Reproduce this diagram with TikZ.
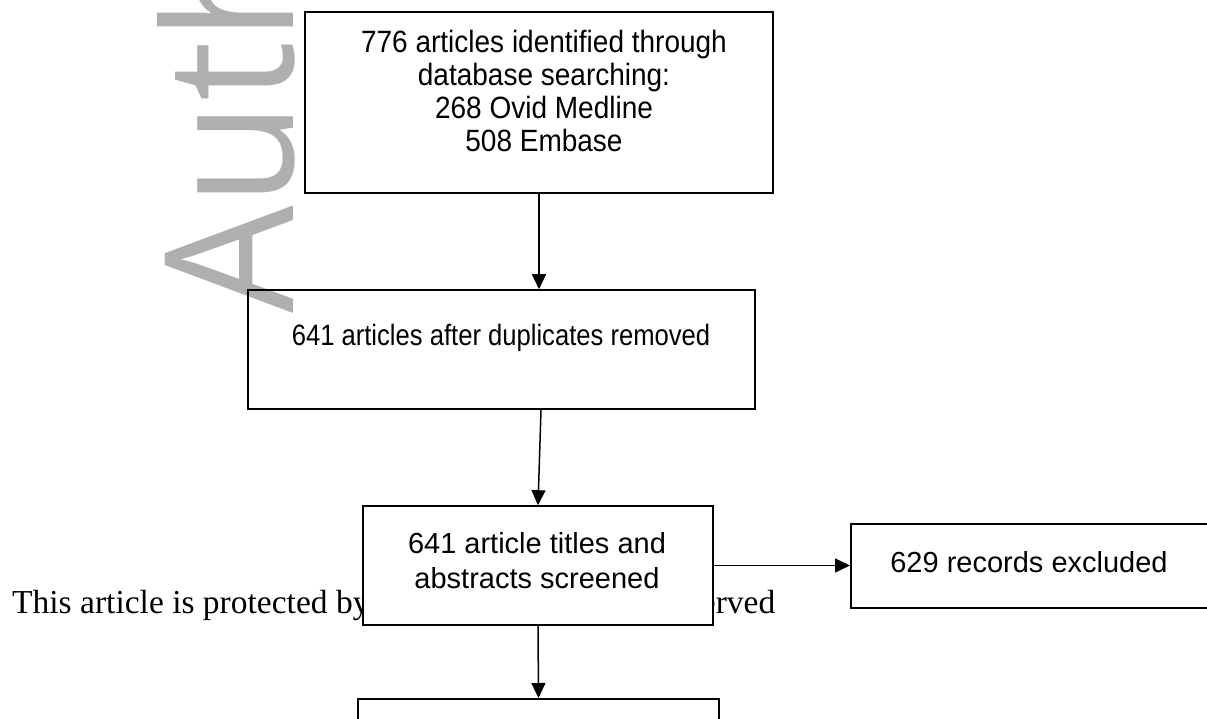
\documentclass[tikz,border=0pt]{standalone}
\usepackage{fontspec}
\setmainfont{Liberation Sans}
\newfontfamily\wmfont{Open Sans}
\newfontfamily\serfont{Liberation Serif}
\usetikzlibrary{arrows.meta}
\definecolor{wmgray}{HTML}{AFAFAF}
\tikzset{
  box/.style={draw=black, line width=1.6pt, rectangle, inner sep=0pt},
  whitebox/.style={box, fill=white},
  arr/.style={line width=1.5pt, -{Triangle[length=15pt,width=14pt]}},
  txt/.style={inner sep=0pt, anchor=base},
  fA/.style={font=\fontsize{28pt}{33pt}\selectfont},
  fB/.style={font=\fontsize{25.6pt}{30pt}\selectfont},
  fC/.style={font=\fontsize{29pt}{35pt}\selectfont},
}
\newcommand{\tall}[2]{\scalebox{1}[#1]{#2}}
\begin{document}
\begin{tikzpicture}[x=1pt, y=-1pt]
\useasboundingbox (0,0) rectangle (1207,719);
\clip (0,0) rectangle (1207,719);
% text under the boxes
\node[anchor=base west, inner sep=0pt] (copy) at (12,613)
  {\resizebox{763pt}{!}{\serfont\fontsize{30pt}{36pt}\selectfont This article is protected by copyright. All rights reserved}};
\node[whitebox, minimum width=350pt, minimum height=119pt] (box3) at (538,565.5) {};
% watermark
\node[rotate=90, anchor=base west, inner sep=0pt, text=wmgray,
      font=\wmfont\fontsize{179pt}{179pt}\selectfont] (wm) at (293,314) {\scalebox{0.95}[1]{Auth}};
% boxes
\node[box, minimum width=468pt, minimum height=181pt] (box1) at (539,102.5) {};
\node[box, minimum width=507pt, minimum height=119pt] (box2) at (501.5,349.5) {};
\node[box, minimum width=361pt, minimum height=60pt, anchor=north] (box4) at (538.5,698) {};
\node[box, minimum width=420pt, minimum height=84pt, anchor=west] (box5) at (850,566) {};
% texts
\node[txt, fA] (t1a) at (544,53)  {\tall{1.1}{776 articles identified through}};
\node[txt, fA] (t1b) at (544,86)  {\tall{1.1}{database searching:}};
\node[txt, fA] (t1c) at (544,119) {\tall{1.1}{268 Ovid Medline}};
\node[txt, fA] (t1d) at (544,152) {\tall{1.1}{508 Embase}};
\node[txt, fB] (t2) at (501,345) {\tall{1.15}{641 articles after duplicates removed}};
\node[txt, fC] (t3a) at (537,553) {641 article titles and};
\node[txt, fC] (t3b) at (537,588) {abstracts screened};
\node[txt, fC] (t5) at (1029,572) {629 records excluded};
% connectors
\draw[arr] (box1.south) -- (box1.south |- box2.north);
\draw[arr] ([xshift=39.5pt]box2.south) -- (box3.north);
\draw[arr] (box3.south) -- (box4.north);
\draw[arr] (box3.east) -- (box3.east -| box5.west);
\end{tikzpicture}
\end{document}
